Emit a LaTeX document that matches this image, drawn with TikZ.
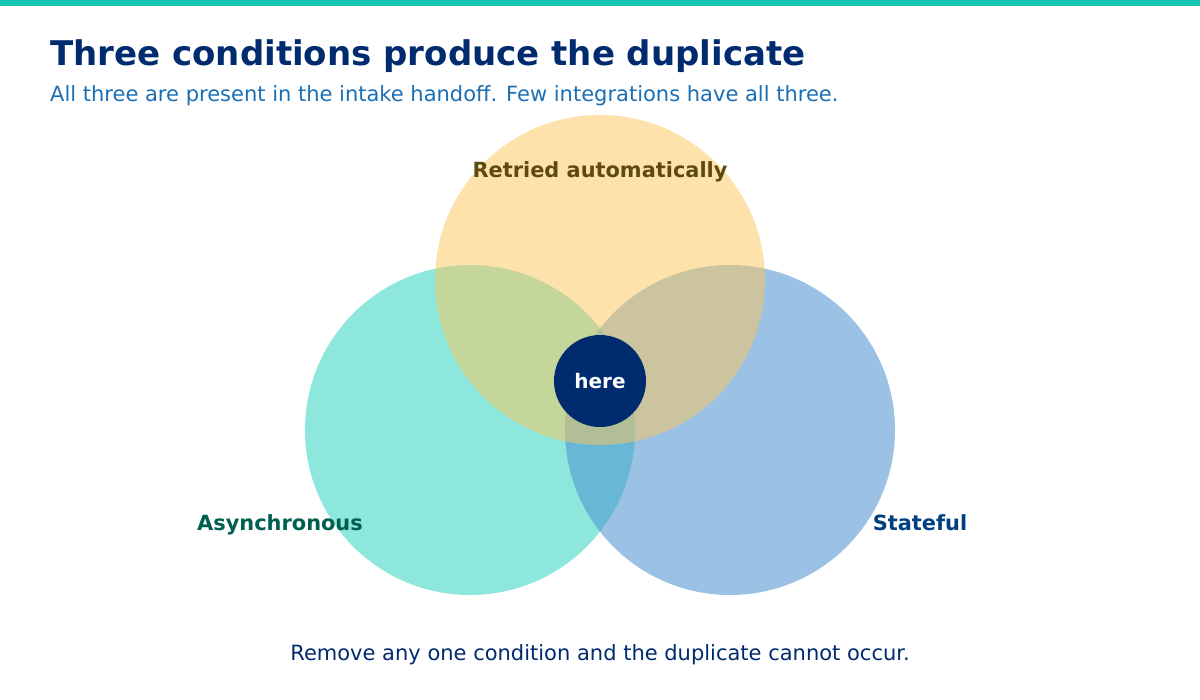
\documentclass[tikz,border=0pt]{standalone}
\usepackage{fontspec}
\setmainfont{DejaVu Sans}
\definecolor{navy}{HTML}{002B6E}
\definecolor{sub}{HTML}{1A6FB5}
\definecolor{cyel}{HTML}{FDC75A}
\definecolor{cteal}{HTML}{3DD6C4}
\definecolor{cblue}{HTML}{4A90CF}
\definecolor{bar}{HTML}{12C4B2}
\definecolor{lyel}{HTML}{5E4A10}
\definecolor{lteal}{HTML}{00604F}
\definecolor{lblue}{HTML}{004080}
\begin{document}
\begin{tikzpicture}[x=1pt,y=-1pt,
  lbl/.style={font=\bfseries\fontsize{20.9}{24}\selectfont,anchor=base}]
\useasboundingbox (0,0) rectangle (1200,700);
\fill[white] (0,0) rectangle (1200,700);
\fill[bar] (0,0) rectangle (1200,6);
\node[anchor=base west,inner sep=0,text=navy,font=\bfseries\fontsize{34}{38}\selectfont] (t) at (50,66) {Three conditions produce the duplicate};
\node[anchor=base west,inner sep=0,text=sub,font=\fontsize{21}{25}\selectfont] (s) at (50,102) {All three are present in the intake handoff. Few integrations have all three.};
\fill[cteal,opacity=0.58] (470,430) circle (165);
\fill[cblue,opacity=0.55] (730,430) circle (165);
\fill[cyel,opacity=0.5] (600,280) circle (165);
\node[circle,fill=navy,minimum size=92,inner sep=0,text=white,font=\bfseries\fontsize{20}{24}\selectfont] (h) at (600,381) {here};
\node[lbl,text=lyel] (r) at (600,178) {Retried automatically};
\node[lbl,text=lteal] (a) at (280,530) {Asynchronous};
\node[lbl,text=lblue] (st) at (920,530) {Stateful};
\node[anchor=base,text=navy,font=\fontsize{21}{25}\selectfont] (b) at (600,660) {Remove any one condition and the duplicate cannot occur.};
\end{tikzpicture}
\end{document}
